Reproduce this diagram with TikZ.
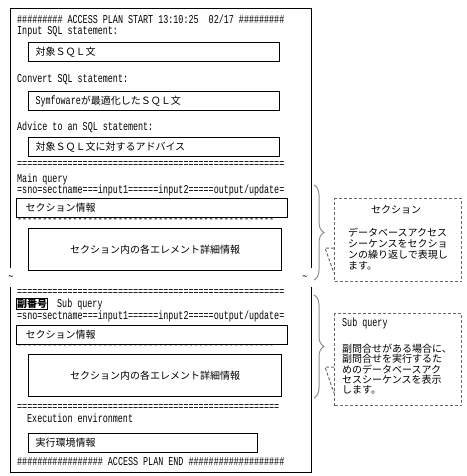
\documentclass[tikz,border=0pt]{standalone}
\usepackage{fontspec}
\setmonofont{Liberation Mono}[FakeStretch=0.7]
\newfontfamily\jp{Noto Sans CJK JP}
\usepackage{tikz}
\usetikzlibrary{decorations.pathreplacing}
\definecolor{notegray}{RGB}{105,105,105}
\definecolor{bracegray}{RGB}{140,140,140}

\begin{document}
\begin{tikzpicture}[x=1pt, y=-1pt,
    every node/.style={inner sep=0pt},
    txt/.style={anchor=west, font=\ttfamily\fontsize{12}{14}\selectfont},
    jtxt/.style={font=\jp\fontsize{10}{11}\selectfont},
    fieldbox/.style={draw, line width=1pt, anchor=north west, inner xsep=7pt, minimum height=19pt, align=left, text width=#1, font=\jp\fontsize{10}{12}\selectfont},
    detailbox/.style={draw, line width=1pt, anchor=north west, minimum width=253pt, minimum height=42pt, font=\jp\fontsize{10}{12}\selectfont},
    notebox/.style={draw=notegray, line width=1pt, dash pattern=on 3pt off 2pt, anchor=north west},
    notedash/.style={draw=notegray, line width=1pt, dash pattern=on 3pt off 2pt},
    bracestyle/.style={draw=bracegray, line width=1pt, decorate, decoration={brace, amplitude=10pt}}]
  \useasboundingbox (0,0) rectangle (466,476);
  % outer frame, cut in the middle
  \draw[line width=1pt] (10,268) -- (10,9) -- (311,9) -- (311,268);
  \draw[line width=1pt] (10,287) -- (10,472) -- (311,472) -- (311,287);
  \node[font=\ttfamily\fontsize{12}{14}\selectfont] (cutl) at (11,278) {\textasciitilde};
  \node[font=\ttfamily\fontsize{12}{14}\selectfont] (cutr) at (305,278) {\textasciitilde};

  \node[txt] (head) at (17,19) {\#\#\#\#\#\#\#\#\# ACCESS PLAN START 13:10:25\ \ 02/17 \#\#\#\#\#\#\#\#\#};
  \node[txt] (inlbl) at (17,32) {Input SQL statement:};
  \node[fieldbox=237pt] (insql) at (28,42) {対象ＳＱＬ文};
  \node[txt] (cvlbl) at (17,80) {Convert SQL statement:};
  \node[fieldbox=237pt] (cvsql) at (28,91) {{\ttfamily\fontsize{12}{14}\selectfont Symfoware}が最適化したＳＱＬ文};
  \node[txt] (advlbl) at (17,127) {Advice to an SQL statement:};
  \node[fieldbox=237pt] (advsql) at (28,137) {対象ＳＱＬ文に対するアドバイス};

  % main query
  \node[txt] (sep1) at (17,165) {=====================================================};
  \node[txt] (mainlbl) at (17,179) {Main query};
  \node[txt] (maincols) at (17,190) {=sno=sectname===input1======input2=====output/update=};
  \node[fieldbox=253pt, inner xsep=9pt] (mainsect) at (16,198) {セクション情報};
  \node[txt] (dash1) at (17,221) {---------------------------------------------------};
  \node[detailbox] (maindetail) at (28,228) {セクション内の各エレメント詳細情報};

  % sub query
  \node[txt] (sep2) at (17,293) {=====================================================};
  \node[draw, line width=1pt, inner sep=0.5pt, anchor=west, font=\jp\bfseries\fontsize{10}{12}\selectfont] (subno) at (16,304) {副番号};
  \node[txt] (sublbl) at (57,304) {Sub query};
  \node[txt] (subcols) at (17,316) {=sno=sectname===input1======input2=====output/update=};
  \node[fieldbox=253pt, inner xsep=9pt] (subsect) at (16,325) {セクション情報};
  \node[txt] (dash2) at (17,347) {---------------------------------------------------};
  \node[detailbox] (subdetail) at (28,354) {セクション内の各エレメント詳細情報};

  \node[txt] (sep3) at (17,408) {====================================================};
  \node[txt] (envlbl) at (27,418) {Execution environment};
  \node[fieldbox=215pt] (envinfo) at (28,433) {実行環境情報};
  \node[txt] (foot) at (17,462) {\#\#\#\#\#\#\#\#\#\#\#\#\#\#\#\#\# ACCESS PLAN END \#\#\#\#\#\#\#\#\#\#\#\#\#\#\#\#\#\#\#};

  % notes on the right
  \coordinate (maintop) at (314,185);
  \coordinate (mainbot) at (314,280);
  \draw[bracestyle] (maintop) -- (mainbot);
  \node[notebox, minimum width=127pt, minimum height=83pt] (sectnote) at (334,198) {};
  \node[jtxt] (secttitle) at (396,210) {セクション};
  \node[jtxt, anchor=north west, align=left] (sectbody) at (348,228) {データベースアクセス\\シーケンスをセクショ\\ンの繰り返しで表現し\\ます。};
  \coordinate (sectptr) at (325,248);
  \coordinate (sectbase) at (334,273);
  \draw[notedash] (sectnote.west |- sectptr) -- (sectptr) -- (sectbase);

  \coordinate (subtop) at (314,295);
  \coordinate (subbot) at (314,398);
  \draw[bracestyle] (subtop) -- (subbot);
  \node[notebox, minimum width=127pt, minimum height=92pt] (subnote) at (334,313) {};
  \node[txt] (subtitle) at (342,323) {Sub query};
  \node[jtxt, anchor=north west, align=left, font=\jp\fontsize{10}{10.3}\selectfont] (subbody) at (342,344) {副問合せがある場合に、\\副問合せを実行するた\\めのデータベースアク\\セスシーケンスを表示\\します。};
  \coordinate (subptr) at (325,367);
  \coordinate (subbase) at (334,393);
  \draw[notedash] (subnote.west |- subptr) -- (subptr) -- (subbase);
\end{tikzpicture}
\end{document}
